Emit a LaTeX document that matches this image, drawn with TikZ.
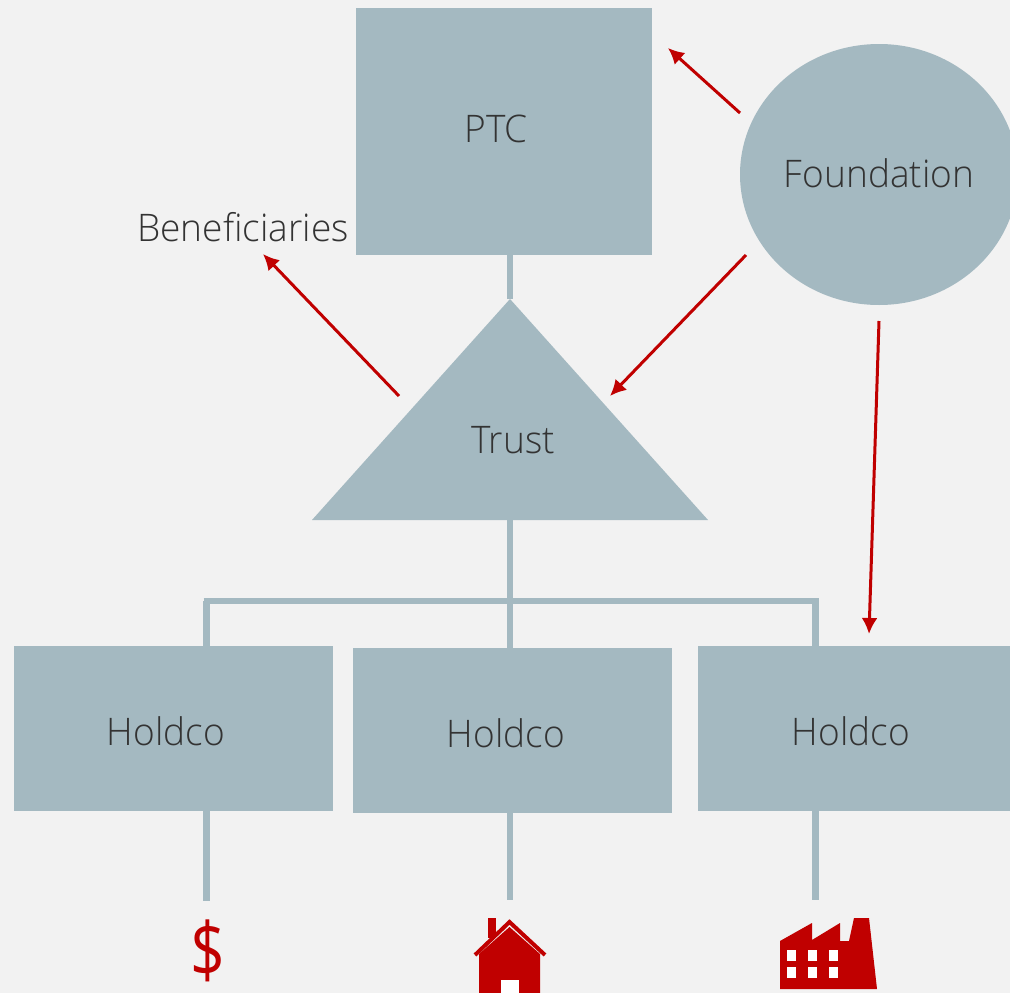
\documentclass[tikz,border=0pt]{standalone}
\usepackage{fontspec}
\setmainfont[FakeStretch=0.975]{Open Sans Light}
\newfontfamily\dollarfont[FakeStretch=0.8]{Open Sans}
\usetikzlibrary{shapes.geometric,arrows.meta}
\definecolor{bg}{HTML}{F2F2F2}
\definecolor{slate}{HTML}{A4B9C1}
\definecolor{ink}{HTML}{333333}
\definecolor{brick}{HTML}{C00000}
\tikzset{
  x=1pt,y=-1pt,
  box/.style={fill=slate,draw=none,inner sep=0pt,outer sep=0pt},
  label text/.style={text=ink,font=\fontsize{38}{42}\selectfont,inner sep=0pt},
  link/.style={draw=slate,line width=6.5pt},
  redarrow/.style={draw=brick,line width=3pt,-{Latex[length=16pt,width=16pt]}},
  icon/.style={fill=brick,draw=none},
}
\begin{document}
\begin{tikzpicture}
\useasboundingbox (0,0) rectangle (1010,993);
\clip (0,0) rectangle (1010,993);
\fill[bg] (0,0) rectangle (1010,993);
% anchor coordinates
\coordinate (tapex) at (510,299);
\coordinate (tl) at (312,520);
\coordinate (tr) at (708,520);
\coordinate (tbase) at (510,520);
\coordinate (barL) at (203.5,601);
\coordinate (barR) at (818.5,601);
\coordinate (barM) at (510,601);
\coordinate (barA) at (206.5,601);
\coordinate (barC) at (815.5,601);
\node[box,minimum width=296pt,minimum height=247pt] (ptc) at (504,131.5) {};
\node[box,minimum width=319pt,minimum height=165pt] (h1) at (173.5,728.5) {};
\node[box,minimum width=319pt,minimum height=165pt] (h2) at (512.5,730.5) {};
\node[box,minimum width=319pt,minimum height=165pt] (h3) at (857.5,728.5) {};
\node[box,ellipse,minimum width=278pt,minimum height=261pt] (fnd) at (879,174.5) {};
\fill[slate] (tapex) -- (tr) -- (tl) -- cycle;
\draw[link] (510,255) -- (tapex);
\draw[link] (tbase) -- (barM);
\draw[link] (barL) -- (barR);
\draw[link] (barA) -- (206.5,646);
\draw[link] (barM) -- (510,648);
\draw[link] (barC) -- (815.5,646);
\coordinate (s1) at (206.5,901);
\coordinate (s2) at (510,900);
\coordinate (s3) at (815.5,900);
\draw[link] (206.5,811) -- (s1);
\draw[link] (510,813) -- (s2);
\draw[link] (815.5,811) -- (s3);
% texts
\node[label text] (ptct) at (496,129) {PTC};
\node[label text] (fndt) at (879,173) {Foundation};
\node[label text] (ben) at (243,227) {Beneficiaries};
\node[label text] (trust) at (513,440) {Trust};
\node[label text] (h1t) at (166,731) {Holdco};
\node[label text] (h2t) at (506,733) {Holdco};
\node[label text] (h3t) at (851,731) {Holdco};
% red arrows
\coordinate (a1s) at (740,113); \coordinate (a1e) at (668,48);
\coordinate (a2s) at (746,255); \coordinate (a2e) at (610,396);
\coordinate (a3s) at (399,396); \coordinate (a3e) at (263,254);
\coordinate (a4s) at (879,321); \coordinate (a4e) at (869,634);
\draw[redarrow] (a1s) -- (a1e);
\draw[redarrow] (a2s) -- (a2e);
\draw[redarrow] (a3s) -- (a3e);
\draw[redarrow] (a4s) -- (a4e);
% dollar
\node[text=brick,font=\dollarfont\fontsize{76}{76}\selectfont,inner sep=0pt] (dollar) at (208,951) {\$};
% house
\fill[icon] (488,918) rectangle (496,938);
\draw[brick,line width=4pt] (475,955) -- (509.5,922) -- (545,955);
\fill[icon] (479,955) -- (479,954) -- (509.5,927) -- (540,954) -- (540,993) -- (479,993) -- cycle;
\fill[white] (501,980) rectangle (519,993);
% factory
\fill[icon] (780,941) -- (812,923) -- (812,940) -- (840,923) -- (840,941) -- (849,941) -- (854,918) -- (869,918) -- (877,989) -- (780,989) -- cycle;
\foreach \wx in {787,808,829}{
  \fill[white] (\wx,950) rectangle +(9,11);
  \fill[white] (\wx,967) rectangle +(9,11);
}
\end{tikzpicture}
\end{document}
